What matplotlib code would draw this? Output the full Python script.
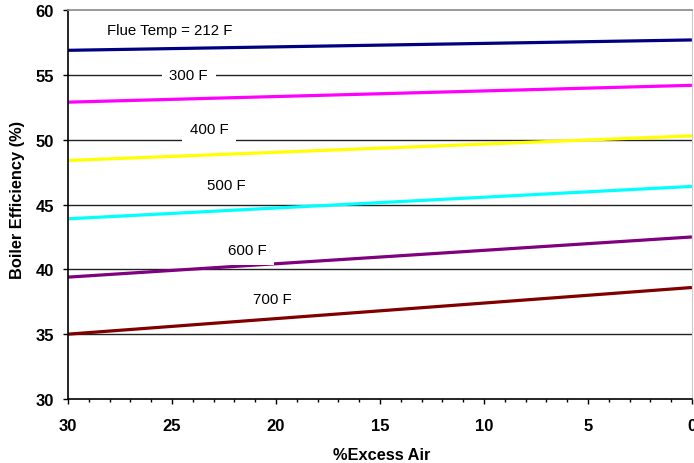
import matplotlib
matplotlib.use("Agg")
import matplotlib.pyplot as plt
from matplotlib.ticker import MultipleLocator

plt.rcParams["font.family"] = ["Liberation Sans", "DejaVu Sans"]

# %Excess air (axis runs from 30 down to 0)
excess_air = [30, 0]

# Boiler efficiency (%) for each flue temperature, read at 30% and 0%
eff_212 = [56.9, 57.7]
eff_300 = [52.9, 54.2]
eff_400 = [48.4, 50.3]
eff_500 = [43.9, 46.4]
eff_600 = [39.4, 42.5]
eff_700 = [35.0, 38.6]

series = [eff_212, eff_300, eff_400, eff_500, eff_600, eff_700]
colors = ["#000080", "#FF00FF", "#FFFF00", "#00FFFF", "#800080", "#800000"]

# label text and where it sits (x in %excess air, y in efficiency)
label_text = ["Flue Temp = 212 F", "300 F", "400 F", "500 F", "600 F", "700 F"]
label_x = [25.1, 24.2, 23.2, 22.4, 21.4, 20.2]
label_y = [58.5, 55.0, 50.85, 46.5, 41.5, 37.7]


def main():
    fig = plt.figure(figsize=(6.94, 4.64), dpi=100)
    ax = fig.add_axes([0.098, 0.138, 0.899, 0.838])

    for y in [35, 40, 45, 50, 55]:
        ax.axhline(y, color="#222222", lw=1.0, zorder=1)

    for vals, c in zip(series, colors):
        ax.plot(excess_air, vals, color=c, lw=2.3, zorder=2,
                solid_capstyle="butt")

    for t, x, y in zip(label_text, label_x, label_y):
        ax.text(x, y, t, fontsize=10.8, ha="center", va="center", zorder=3,
                bbox=dict(facecolor="white", edgecolor="none", pad=5.5))

    ax.set_xlim(30, 0)
    ax.set_ylim(30, 60)
    ax.xaxis.set_major_locator(MultipleLocator(5))
    ax.xaxis.set_minor_locator(MultipleLocator(1))
    ax.yaxis.set_major_locator(MultipleLocator(5))

    ax.tick_params(axis="x", which="major", length=3.6, width=1, pad=10,
                   labelsize=12)
    ax.tick_params(axis="x", which="minor", length=2.2, width=1)
    ax.tick_params(axis="y", which="major", length=3.6, width=1, pad=6.5,
                   labelsize=12)
    for lab in ax.get_xticklabels() + ax.get_yticklabels():
        lab.set_fontweight("bold")

    ax.spines["left"].set_linewidth(1.2)
    ax.spines["bottom"].set_linewidth(1.2)
    ax.spines["top"].set_color("#888888")
    ax.spines["top"].set_linewidth(1.2)
    ax.spines["right"].set_color("#cccccc")

    ax.set_xlabel("%Excess Air", fontsize=11.8, fontweight="bold")
    ax.set_ylabel("Boiler Efficiency (%)", fontsize=11.8, fontweight="bold")
    ax.xaxis.set_label_coords(0.503, -0.123)
    ax.yaxis.set_label_coords(-0.069, 0.515)

    fig.savefig("out.png", dpi=100)


if __name__ == "__main__":
    main()
